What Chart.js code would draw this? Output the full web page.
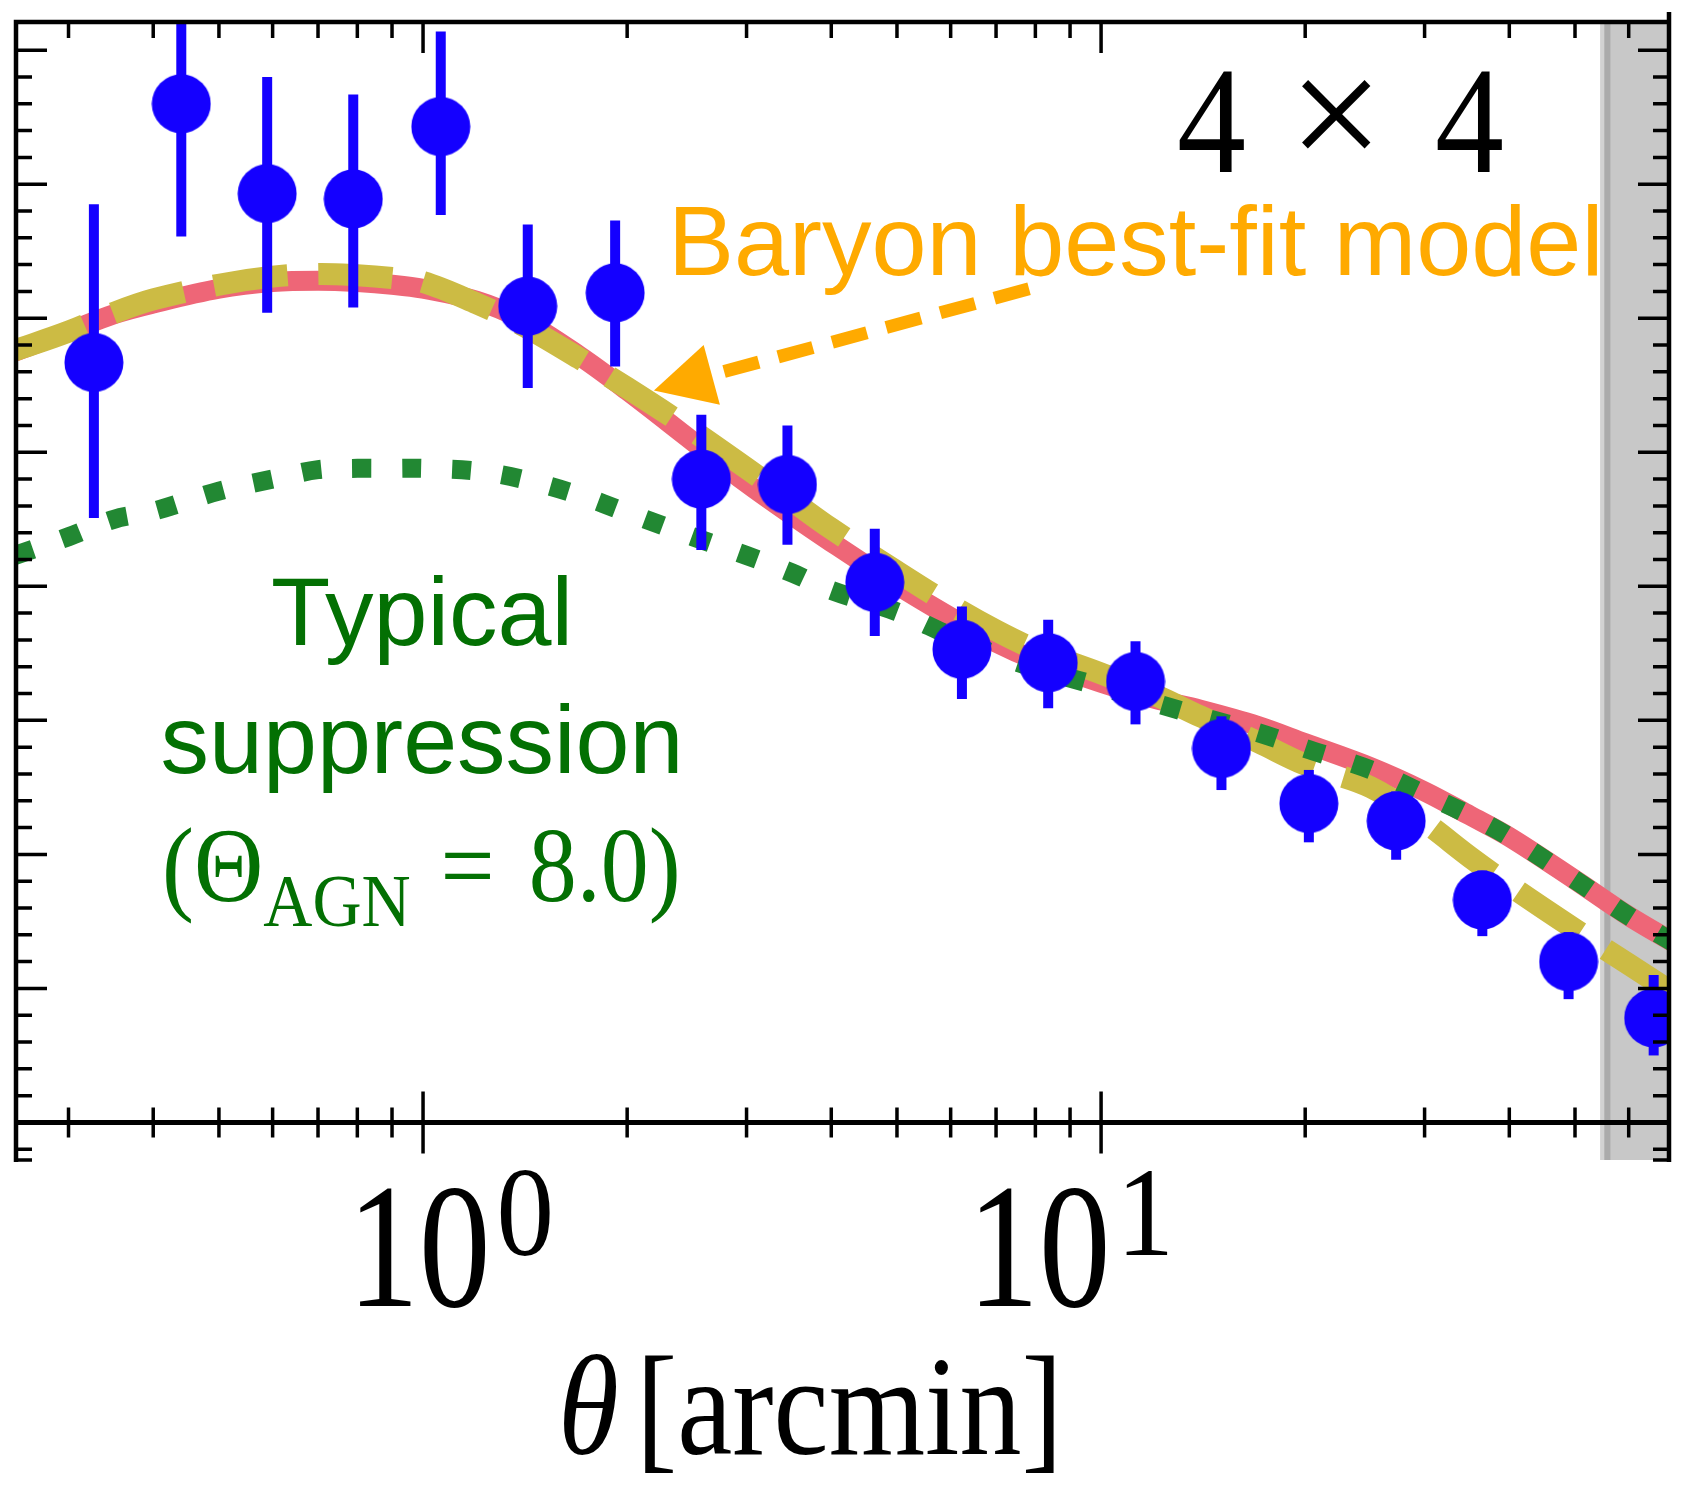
<!DOCTYPE html>
<html>
<head>
<meta charset="utf-8">
<script src="https://cdn.jsdelivr.net/npm/chart.js@4.4.1/dist/chart.umd.min.js"></script>
<style>
  html, body { margin: 0; padding: 0; background: #fff; }
</style>
</head>
<body>
<canvas id="xi" width="1689" height="1499"></canvas>
<script>
// measured signal, 4x4 bin
const theta = [0.327, 0.440, 0.589, 0.789, 1.062, 1.427, 1.920, 2.573, 3.447, 4.637,
  6.234, 8.356, 11.24, 15.05, 20.25, 27.24, 36.50, 48.92, 65.31]
const signal = [5.67, 7.60, 6.93, 6.89, 7.43, 6.09, 6.19, 4.80, 4.76, 4.03,
  3.53, 3.43, 3.29, 2.79, 2.38, 2.25, 1.66, 1.20, 0.78]
const errHigh = [6.85, 8.70, 7.80, 7.67, 8.14, 6.70, 6.73, 5.28, 5.20, 4.43,
  3.85, 3.75, 3.59, 3.03, 2.63, 2.47, 1.88, 1.42, 1.10]
const errLow = [4.51, 6.61, 6.04, 6.08, 6.77, 5.48, 5.64, 4.27, 4.31, 3.63,
  3.16, 3.09, 2.97, 2.48, 2.09, 1.96, 1.39, 0.92, 0.50]

// model curves
const thetaModel = [0.25, 0.3, 0.35, 0.4, 0.5, 0.6, 0.7, 0.8, 0.9, 1.0, 1.2, 1.4, 1.7,
  2, 2.5, 3, 3.5, 4, 5, 6, 7, 8, 10, 12, 14, 17, 20, 25, 30, 35, 40, 50, 60, 70]
const fiducial = [5.75, 5.90, 6.03, 6.11, 6.22, 6.27, 6.28, 6.27, 6.25, 6.22, 6.13, 5.99, 5.72,
  5.46, 5.08, 4.77, 4.53, 4.33, 4.01, 3.77, 3.58, 3.45, 3.28, 3.16, 3.08, 2.96, 2.83, 2.65,
  2.47, 2.29, 2.13, 1.81, 1.54, 1.34]
const baryonFit = [5.76, 5.90, 6.04, 6.14, 6.25, 6.31, 6.33, 6.32, 6.30, 6.27, 6.11, 5.95, 5.70,
  5.48, 5.16, 4.88, 4.64, 4.43, 4.11, 3.86, 3.67, 3.53, 3.35, 3.19, 3.03, 2.84, 2.67, 2.50,
  2.24, 1.98, 1.77, 1.44, 1.18, 0.96]
const agnSuppressed = [4.23, 4.37, 4.50, 4.56, 4.71, 4.80, 4.87, 4.88, 4.88, 4.88, 4.86, 4.80, 4.68,
  4.55, 4.37, 4.23, 4.10, 3.97, 3.81, 3.63, 3.49, 3.39, 3.25, 3.13, 3.03, 2.91, 2.79, 2.63,
  2.45, 2.29, 2.13, 1.81, 1.54, 1.34]

// ticks
const xMajor = [1, 10]
const xMinor = [0.3, 0.4, 0.5, 0.6, 0.7, 0.8, 0.9, 2, 3, 4, 5, 6, 7, 8, 9, 20, 30, 40, 50, 60]
const xTickExp = ['0', '1']
const yMajor = [0, 1, 2, 3, 4, 5, 6, 7, 8]
const yMinor = []
for (let v = -0.2; v < 8.15; v += 0.2) {
  if (Math.abs(v - Math.round(v)) > 0.05) yMinor.push(+v.toFixed(1))
}
const maskStart = 54.5 // scale cut, shaded

const BLUE = '#1400ff'
const ORANGE = '#ffaa00'
const TEXT_GREEN = '#037003'

function drawText (c, str, x, y, font, color, align, sy) {
  c.save()
  c.font = font
  c.fillStyle = color
  c.textAlign = align || 'left'
  c.textBaseline = 'alphabetic'
  c.translate(x, y)
  c.scale(1, sy || 1)
  c.fillText(str, 0, 0)
  c.restore()
}

function textWidth (c, str, font) {
  c.save()
  c.font = font
  const w = c.measureText(str).width
  c.restore()
  return w
}

// filled marker
const dot = document.createElement('canvas')
dot.width = 60
dot.height = 60
const dctx = dot.getContext('2d')
dctx.fillStyle = BLUE
dctx.beginPath()
dctx.arc(30, 30, 29.5, 0, Math.PI * 2)
dctx.fill()

const shadePlugin = {
  id: 'shade',
  beforeDatasetsDraw (chart) {
    const { ctx, chartArea: a, scales: { x } } = chart
    const x0 = x.getPixelForValue(maskStart)
    ctx.save()
    ctx.fillStyle = '#c8c8c8'
    ctx.fillRect(x0, a.top, a.right - x0, a.bottom - a.top)
    ctx.fillStyle = '#d2d2d2'
    ctx.fillRect(x0, a.top, 4, a.bottom - a.top)
    ctx.fillStyle = '#ababab'
    ctx.fillRect(x0 + 4, a.top, 6, a.bottom - a.top)
    ctx.restore()
  }
}

const errorBarPlugin = {
  id: 'errorBars',
  beforeDatasetDraw (chart, args) {
    if (args.index !== 0) return
    const { ctx, chartArea: a, scales: { x, y } } = chart
    ctx.save()
    ctx.beginPath()
    ctx.rect(a.left, a.top, a.right - a.left, a.bottom - a.top)
    ctx.clip()
    ctx.strokeStyle = BLUE
    ctx.lineWidth = 10
    ctx.lineCap = 'butt'
    theta.forEach((t, i) => {
      const px = x.getPixelForValue(t)
      ctx.beginPath()
      ctx.moveTo(px, y.getPixelForValue(errLow[i]))
      ctx.lineTo(px, y.getPixelForValue(errHigh[i]))
      ctx.stroke()
    })
    ctx.restore()
  }
}

const arrowPlugin = {
  id: 'arrow',
  afterDatasetsDraw (chart) {
    const { ctx, scales: { x, y } } = chart
    const tx = x.getPixelForValue(7.83), ty = y.getPixelForValue(6.22)
    const hx = x.getPixelForValue(2.19), hy = y.getPixelForValue(5.46)
    const len = Math.hypot(hx - tx, hy - ty)
    const ux = (hx - tx) / len, uy = (hy - ty) / len
    const headLen = 60, headHalf = 31
    const bx = hx - ux * headLen, by = hy - uy * headLen
    ctx.save()
    ctx.strokeStyle = ORANGE
    ctx.fillStyle = ORANGE
    ctx.lineWidth = 13
    ctx.setLineDash([36, 20])
    ctx.beginPath()
    ctx.moveTo(tx, ty)
    ctx.lineTo(bx, by)
    ctx.stroke()
    ctx.setLineDash([])
    ctx.beginPath()
    ctx.moveTo(hx, hy)
    ctx.lineTo(bx - uy * headHalf, by + ux * headHalf)
    ctx.lineTo(bx + uy * headHalf, by - ux * headHalf)
    ctx.closePath()
    ctx.fill()
    ctx.restore()
  }
}

const framePlugin = {
  id: 'frame',
  afterDraw (chart) {
    const { ctx, chartArea: a, scales: { x, y } } = chart
    const y0 = y.getPixelForValue(0)
    ctx.save()
    ctx.strokeStyle = '#000'
    ctx.lineCap = 'butt'

    // spines
    ctx.lineWidth = 4.5
    ctx.beginPath()
    ctx.moveTo(a.left, a.bottom + 2)
    ctx.lineTo(a.left, a.top)
    ctx.lineTo(a.right, a.top)
    ctx.moveTo(a.right, a.top - 10)
    ctx.lineTo(a.right, a.bottom + 2)
    ctx.stroke()

    // zero line
    ctx.lineWidth = 5
    ctx.beginPath()
    ctx.moveTo(a.left, y0)
    ctx.lineTo(a.right, y0)
    ctx.stroke()

    ctx.lineWidth = 3.5
    ctx.beginPath()
    xMinor.forEach(v => {
      const px = x.getPixelForValue(v)
      ctx.moveTo(px, a.top); ctx.lineTo(px, a.top + 16)
      ctx.moveTo(px, y0 - 15); ctx.lineTo(px, y0 + 15)
    })
    xMajor.forEach(v => {
      const px = x.getPixelForValue(v)
      ctx.moveTo(px, a.top); ctx.lineTo(px, a.top + 31)
      ctx.moveTo(px, y0 - 31); ctx.lineTo(px, y0 + 31)
    })
    yMinor.forEach(v => {
      const py = y.getPixelForValue(v)
      ctx.moveTo(a.left, py); ctx.lineTo(a.left + 16, py)
      ctx.moveTo(a.right, py); ctx.lineTo(a.right - 16, py)
    })
    yMajor.forEach(v => {
      const py = y.getPixelForValue(v)
      ctx.moveTo(a.left, py); ctx.lineTo(a.left + 31, py)
      ctx.moveTo(a.right, py); ctx.lineTo(a.right - 31, py)
    })
    ctx.moveTo(a.left, a.bottom); ctx.lineTo(a.left + 16, a.bottom)
    ctx.moveTo(a.right, a.bottom); ctx.lineTo(a.right - 16, a.bottom)
    ctx.stroke()
    ctx.restore()

    // tick labels 10^n
    const shift = [-4, -62]
    const baseFont = '143px "Liberation Serif"'
    xMajor.forEach((v, i) => {
      const cx = x.getPixelForValue(v) + shift[i]
      const w = textWidth(ctx, '10', baseFont)
      drawText(ctx, '10', cx - w / 2, 1306, baseFont, '#000', 'left', 1.25)
      drawText(ctx, xTickExp[i], cx + w / 2 + 6, 1255, '115px "Liberation Serif"', '#000', 'left', 1.1)
    })

    // axis title
    drawText(ctx, 'θ', 558, 1454, 'italic 124px "Liberation Serif"', '#000', 'left', 1.15)
    drawText(ctx, '[arcmin]', 636, 1454, '124px "Liberation Serif"', '#000', 'left', 1.15)

    // panel label
    drawText(ctx, '4', 1177, 172, '138px "Liberation Serif"', '#000', 'left', 1.1)
    drawText(ctx, '×', 1336, 170, '168px "Liberation Serif"', '#000', 'center', 1)
    drawText(ctx, '4', 1435, 172, '138px "Liberation Serif"', '#000', 'left', 1.1)

    drawText(ctx, 'Baryon best-fit model', 668, 275, '99px "Liberation Sans"', ORANGE, 'left')

    drawText(ctx, 'Typical', 422, 645, '97px "Liberation Sans"', TEXT_GREEN, 'center')
    drawText(ctx, 'suppression', 422, 773, '97px "Liberation Sans"', TEXT_GREEN, 'center')

    // (Θ_AGN = 8.0)
    const main = '96px "Liberation Serif"'
    const sub = '68px "Liberation Serif"'
    let cx = 162
    const put = (s, font, base, gap) => {
      cx += gap || 0
      drawText(ctx, s, cx, base, font, TEXT_GREEN, 'left', 1.1)
      cx += textWidth(ctx, s, font)
    }
    put('(Θ', main, 901)
    put('AGN', sub, 926)
    put('=', main, 901, 30)
    put('8.0)', main, 901, 34)
  }
}

new Chart(document.getElementById('xi'), {
  type: 'scatter',
  data: {
    datasets: [{
      label: 'data',
      data: theta.map((t, i) => ({ x: t, y: signal[i] })),
      pointStyle: dot,
      pointRadius: 30,
      order: 0,
      clip: 0
    },
    {
      type: 'line',
      label: 'Typical suppression',
      data: thetaModel.map((t, i) => ({ x: t, y: agnSuppressed[i] })),
      borderColor: '#228833',
      borderWidth: 19,
      borderDash: [19, 31],
      borderCapStyle: 'butt',
      pointRadius: 0,
      tension: 0.35,
      order: 1,
      clip: 0
    },
    {
      type: 'line',
      label: 'Baryon best-fit',
      data: thetaModel.map((t, i) => ({ x: t, y: baryonFit[i] })),
      borderColor: '#ccbb44',
      borderWidth: 22,
      borderDash: [74, 31],
      borderCapStyle: 'butt',
      pointRadius: 0,
      tension: 0.35,
      order: 2,
      clip: 0
    },
    {
      type: 'line',
      label: 'Fiducial',
      data: thetaModel.map((t, i) => ({ x: t, y: fiducial[i] })),
      borderColor: '#ee6677',
      borderWidth: 20,
      pointRadius: 0,
      tension: 0.35,
      order: 3,
      clip: 0
    }]
  },
  options: {
    responsive: false,
    animation: false,
    devicePixelRatio: 1,
    layout: { autoPadding: false, padding: { left: 16, right: 20, top: 22, bottom: 339 } },
    plugins: {
      legend: { display: false },
      tooltip: { enabled: false }
    },
    scales: {
      x: { type: 'logarithmic', min: 0.251, max: 68.8, display: false },
      y: { type: 'linear', min: -0.28, max: 8.21, display: false }
    }
  },
  plugins: [shadePlugin, errorBarPlugin, arrowPlugin, framePlugin]
})
</script>
</body>
</html>
